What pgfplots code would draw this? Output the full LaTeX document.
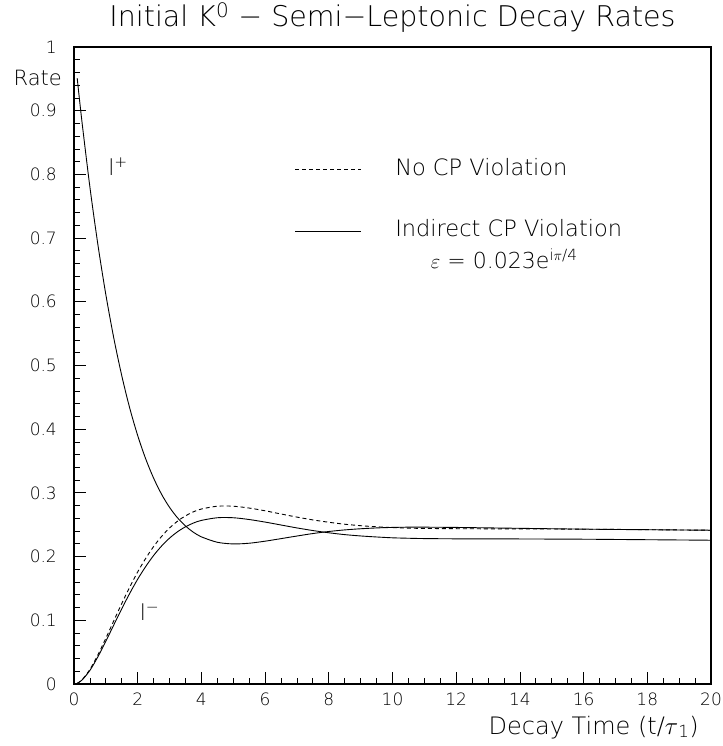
\documentclass[border=0pt]{standalone}
\usepackage{pgfplots}
\pgfplotsset{compat=1.18}
\usepackage{fontspec}
\setmainfont{DejaVu Sans ExtraLight}

\pgfplotstableread{
t v
0.1 0.9512
0.25 0.8827
0.5 0.7799
0.75 0.6898
1 0.6112
1.25 0.5429
1.5 0.4839
1.75 0.4331
2 0.3900
2.25 0.3536
2.5 0.3231
2.75 0.2978
3 0.2773
3.25 0.2609
3.5 0.2481
3.75 0.2382
4 0.2310
4.5 0.2225
5 0.2199
5.5 0.2210
6 0.2242
6.5 0.2282
7 0.2323
7.5 0.2362
8 0.2394
8.5 0.2419
9 0.2437
9.5 0.2450
10 0.2458
10.5 0.2462
11 0.2462
12 0.2458
13 0.2451
14 0.2444
15 0.2437
16 0.2431
17 0.2426
18 0.2422
19 0.2418
20 0.2414
}\lplus

\pgfplotstableread{
t v
0.1 0.0011
0.25 0.0065
0.5 0.0229
0.75 0.0457
1 0.0718
1.25 0.0993
1.5 0.1264
1.75 0.1522
2 0.1760
2.25 0.1971
2.5 0.2158
2.75 0.2317
3 0.2449
3.25 0.2556
3.5 0.2640
3.75 0.2703
4 0.2747
4.5 0.2791
5 0.2791
5.5 0.2762
6 0.2719
6.5 0.2669
7 0.2620
7.5 0.2576
8 0.2539
8.5 0.2508
9 0.2485
9.5 0.2468
10 0.2455
10.5 0.2447
11 0.2442
12 0.2438
13 0.2436
14 0.2435
15 0.2433
16 0.2430
17 0.2427
18 0.2423
19 0.2418
20 0.2414
}\lminusnocp

\pgfplotstableread{
t v
0.1 0.0010
0.25 0.0061
0.5 0.0214
0.75 0.0427
1 0.0671
1.25 0.0928
1.5 0.1182
1.75 0.1423
2 0.1646
2.25 0.1843
2.5 0.2018
2.75 0.2166
3 0.2290
3.25 0.2390
3.5 0.2468
3.75 0.2527
4 0.2568
4.5 0.2610
5 0.2610
5.5 0.2582
6 0.2542
6.5 0.2496
7 0.2450
7.5 0.2409
8 0.2374
8.5 0.2345
9 0.2324
9.5 0.2308
10 0.2295
10.5 0.2288
11 0.2283
12 0.2279
13 0.2278
14 0.2277
15 0.2275
16 0.2273
17 0.2269
18 0.2265
19 0.2261
20 0.2257
}\lminuscp

\begin{document}
\begin{tikzpicture}[x=1pt,y=1pt]
\useasboundingbox (0,0) rectangle (722,746);
\begin{axis}[
  at={(74pt,62pt)}, anchor=south west,
  width=637pt, height=637pt, scale only axis,
  xmin=0, xmax=20, ymin=0, ymax=1,
  clip=false,
  xtick={0,2,4,6,8,10,12,14,16,18,20},
  xticklabels={0,2,4,6,8,10,12,14,16,18,20},
  ytick={0,0.1,0.2,0.3,0.4,0.5,0.6,0.7,0.8,0.9,1},
  yticklabels={0,0.1,0.2,0.3,0.4,0.5,0.6,0.7,0.8,0.9,1},
  minor x tick num=3, minor y tick num=4,
  xtick pos=left, ytick pos=left,
  tick align=inside,
  major tick length=12pt, minor tick length=6pt,
  every tick/.style={black, line width=0.8pt},
  axis line style={line width=1.1pt},
  /pgf/number format/assume math mode=true,
  tick label style={font=\fontsize{17}{17}\selectfont},
  yticklabel style={anchor=east, inner sep=0pt, xshift=-17pt},
  xticklabel style={anchor=north, inner sep=0pt, yshift=-9pt},
]
\addplot[black, line width=0.9pt, smooth, dash pattern=on 4pt off 3pt] table[x=t, y=v] {\lminusnocp};
\addplot[black, line width=0.9pt, smooth] table[x=t, y=v] {\lplus};
\addplot[black, line width=0.9pt, smooth] table[x=t, y=v] {\lminuscp};

% legend
\draw[black, line width=0.9pt, dash pattern=on 4pt off 3pt] (axis cs:6.94,0.808) -- (axis cs:9.0,0.808);
\draw[black, line width=0.9pt] (axis cs:6.94,0.711) -- (axis cs:9.0,0.711);
\node[anchor=base west, inner sep=0pt, font=\fontsize{22.5}{22.5}\selectfont] at (axis cs:10.08,0.799) {No CP Violation};
\node[anchor=base west, inner sep=0pt, font=\fontsize{22.5}{22.5}\selectfont] at (axis cs:10.08,0.702) {Indirect CP Violation};
\node[anchor=base west, inner sep=0pt, font=\fontsize{22}{22}\selectfont] at (axis cs:11.2,0.653) {$\varepsilon$ = 0.023e\textsuperscript{i$\pi$/4}};

% curve labels
\node[anchor=base west, inner sep=0pt, font=\fontsize{22}{22}\selectfont] at (axis cs:1.07,0.799) {l\textsuperscript{+}};
\node[anchor=base west, inner sep=0pt, font=\fontsize{22}{22}\selectfont] at (axis cs:2.06,0.100) {l\textsuperscript{−}};

% axis texts
\node[anchor=base east, inner sep=0pt, font=\fontsize{21}{21}\selectfont] at (axis cs:0,0.939) [xshift=-12pt] {Rate};
\node[anchor=base east, inner sep=0pt, font=\fontsize{24}{24}\selectfont] at (rel axis cs:1,0) [xshift=-12pt, yshift=-50pt] {Decay Time (t/$\tau$\textsubscript{1})};
\node[anchor=base, inner sep=0pt, font=\fontsize{28.5}{28.5}\selectfont] at (rel axis cs:0.5,1) [yshift=20pt] {Initial K\textsuperscript{0} − Semi−Leptonic Decay Rates};
\end{axis}
\end{tikzpicture}
\end{document}
